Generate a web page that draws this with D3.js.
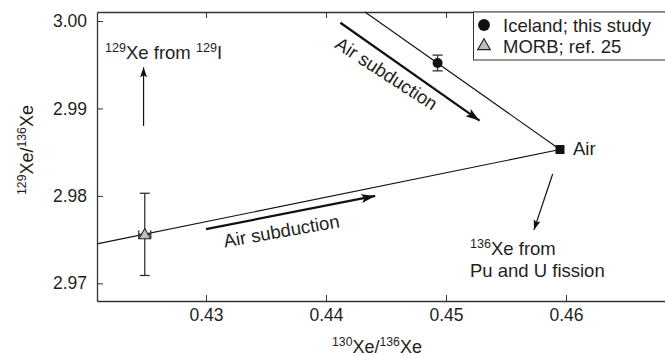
<!DOCTYPE html>
<html>
<head>
<meta charset="utf-8">
<script src="https://cdn.jsdelivr.net/npm/d3@7"></script>
<style>
  body { margin: 0; background: #fff; }
  svg { font-family: "Liberation Sans", Arial, sans-serif; }
  .axis path, .axis line { stroke: #333; }
  .axis text { font-size: 17.5px; fill: #231f20; }
</style>
</head>
<body>
<div id="chart"></div>
<script>
// sample points
var sampleNames = ["Iceland; this study", "MORB; ref. 25"];
var sampleX = [0.4493, 0.4249];
var sampleY = [2.9952, 2.9756];
var sampleXErr = [0, 0.0005];
var sampleYErr = [0.0009, 0.0047];

// air composition
var airX = 0.4595, airY = 2.9853;

// mixing lines (air -> edge of plot)
var icelandLine = [[0.4595, 2.9853], [0.44325, 3.00103]];
var morbLine = [[0.4595, 2.9853], [0.42092, 2.97451]];

// arrows
var thickArrows = [[[0.4412, 2.9998], [0.4528, 2.9886]], [[0.4300, 2.9762], [0.4441, 2.9800]]];
var thinArrows = [[[0.4248, 2.9880], [0.4248, 2.9947]], [[0.45889, 2.98251], [0.45733, 2.97611]]];

var xTicks = [0.43, 0.44, 0.45, 0.46];
var yTicks = [2.97, 2.98, 2.99, 3.00];

var W = 665, H = 356;
var margin = { top: 12, right: 0, bottom: 55, left: 97 },
  width = W - margin.left - margin.right,
  height = H - margin.top - margin.bottom;

var svg = d3.select("#chart").append("svg")
  .attr("width", W)
  .attr("height", H);

var defs = svg.append("defs");
defs.append("marker")
  .attr("id", "headThick")
  .attr("markerUnits", "userSpaceOnUse")
  .attr("viewBox", "0 -5 14 10")
  .attr("refX", 14).attr("refY", 0)
  .attr("markerWidth", 14).attr("markerHeight", 10)
  .attr("orient", "auto")
  .append("path").attr("d", "M0,-4.5L14,0L0,4.5L3,0Z").attr("fill", "#111");
defs.append("marker")
  .attr("id", "headThin")
  .attr("markerUnits", "userSpaceOnUse")
  .attr("viewBox", "0 -4 10 8")
  .attr("refX", 10).attr("refY", 0)
  .attr("markerWidth", 10).attr("markerHeight", 8)
  .attr("orient", "auto")
  .append("path").attr("d", "M0,-3.5L10,0L0,3.5L2,0Z").attr("fill", "#111");

var g = svg.append("g")
  .attr("transform", "translate(" + margin.left + "," + margin.top + ")");

var x = d3.scaleLinear().domain([0.42092, 0.46825]).range([0, width]);
var y = d3.scaleLinear().domain([2.96798, 3.00103]).range([height, 0]);

// axes with inward ticks
g.append("g")
  .attr("class", "axis")
  .attr("transform", "translate(0," + height + ")")
  .call(d3.axisBottom(x).tickValues(xTicks).tickSizeInner(-6).tickSizeOuter(0).tickPadding(8).tickFormat(d3.format(".2f")));

g.append("g")
  .attr("class", "axis")
  .call(d3.axisTop(x).tickValues(xTicks).tickSizeInner(-6).tickSizeOuter(0).tickFormat(""));

g.append("g")
  .attr("class", "axis")
  .call(d3.axisLeft(y).tickValues(yTicks).tickSizeInner(-6).tickSizeOuter(0).tickPadding(10).tickFormat(d3.format(".2f")));

g.selectAll(".axis path").attr("stroke-width", 1.3);

// text with isotope superscripts
function isoText(sel, parts) {
  parts.forEach(function (p) {
    if (p.sup) {
      sel.append("tspan").attr("font-size", "0.68em").attr("dy", -7).text(p.sup);
      sel.append("tspan").attr("dy", 7).text(p.t);
    } else {
      sel.append("tspan").text(p.t);
    }
  });
}

var xt = svg.append("text")
  .attr("x", 377).attr("y", 353)
  .attr("text-anchor", "middle")
  .attr("font-size", 18).attr("fill", "#231f20");
isoText(xt, [{ sup: "130", t: "Xe/" }, { sup: "136", t: "Xe" }]);

var yt = svg.append("text")
  .attr("transform", "translate(33,150) rotate(-90)")
  .attr("text-anchor", "middle")
  .attr("font-size", 18).attr("fill", "#231f20");
isoText(yt, [{ sup: "129", t: "Xe/" }, { sup: "136", t: "Xe" }]);

// mixing lines
var line = d3.line().x(function (d) { return x(d[0]); }).y(function (d) { return y(d[1]); });
[icelandLine, morbLine].forEach(function (l) {
  g.append("path").attr("d", line(l)).attr("fill", "none").attr("stroke", "#111").attr("stroke-width", 1.1);
});

// arrows
thickArrows.forEach(function (a) {
  g.append("path").attr("d", line(a)).attr("stroke", "#111").attr("stroke-width", 2.2)
    .attr("fill", "none").attr("marker-end", "url(#headThick)");
});
thinArrows.forEach(function (a) {
  g.append("path").attr("d", line(a)).attr("stroke", "#111").attr("stroke-width", 1.2)
    .attr("fill", "none").attr("marker-end", "url(#headThin)");
});

// error bars
var cap = 5;
sampleX.forEach(function (sx, i) {
  var eb = g.append("g").attr("stroke", "#333").attr("stroke-width", 1.3);
  var cx = x(sx), cy = y(sampleY[i]);
  var y0 = y(sampleY[i] - sampleYErr[i]), y1 = y(sampleY[i] + sampleYErr[i]);
  eb.append("line").attr("x1", cx).attr("x2", cx).attr("y1", y0).attr("y2", y1);
  eb.append("line").attr("x1", cx - cap).attr("x2", cx + cap).attr("y1", y0).attr("y2", y0);
  eb.append("line").attr("x1", cx - cap).attr("x2", cx + cap).attr("y1", y1).attr("y2", y1);
  if (sampleXErr[i] > 0) {
    var x0 = x(sx - sampleXErr[i]), x1 = x(sx + sampleXErr[i]);
    eb.append("line").attr("x1", x0).attr("x2", x1).attr("y1", cy).attr("y2", cy);
    eb.append("line").attr("x1", x0).attr("x2", x0).attr("y1", cy - 4).attr("y2", cy + 4);
    eb.append("line").attr("x1", x1).attr("x2", x1).attr("y1", cy - 4).attr("y2", cy + 4);
  }
});

// markers
var circleSym = d3.symbol().type(d3.symbolCircle).size(78);
var triSym = d3.symbol().type(d3.symbolTriangle).size(60);
g.append("path").attr("d", circleSym())
  .attr("transform", "translate(" + x(sampleX[0]) + "," + y(sampleY[0]) + ")")
  .attr("fill", "#111");
g.append("path").attr("d", triSym())
  .attr("transform", "translate(" + x(sampleX[1]) + "," + (y(sampleY[1]) + 1) + ")")
  .attr("fill", "#bdbdbd").attr("stroke", "#222").attr("stroke-width", 1.1);

// air point
g.append("rect")
  .attr("x", x(airX) - 4.5).attr("y", y(airY) - 4.5)
  .attr("width", 9).attr("height", 9).attr("fill", "#111");

// annotations
var ann = g.append("g").attr("font-size", 18.5).attr("fill", "#231f20");
ann.append("text").attr("x", x(airX) + 13).attr("y", y(airY) + 5).text("Air");

var t1 = ann.append("text").attr("x", x(0.42092) + 8).attr("y", y(2.99566));
isoText(t1, [{ sup: "129", t: "Xe from " }, { sup: "129", t: "I" }]);

var t2 = ann.append("text").attr("x", x(0.4520)).attr("y", y(2.97326));
isoText(t2, [{ sup: "136", t: "Xe from" }]);
ann.append("text").attr("x", x(0.4520)).attr("y", y(2.97078)).text("Pu and U fission");

ann.append("text")
  .attr("text-anchor", "middle")
  .attr("transform", "translate(" + x(0.44475) + "," + y(2.99337) + ") rotate(33)")
  .text("Air subduction");
ann.append("text")
  .attr("text-anchor", "middle")
  .attr("transform", "translate(" + x(0.43638) + "," + y(2.97526) + ") rotate(-10)")
  .text("Air subduction");

// legend
var lg = svg.append("g");
lg.append("rect").attr("x", 473.5).attr("y", 12).attr("width", 200).attr("height", 48)
  .attr("fill", "#fff").attr("stroke", "#333").attr("stroke-width", 1);
lg.append("path").attr("d", d3.symbol().type(d3.symbolCircle).size(110)()).attr("transform", "translate(484,25)").attr("fill", "#111");
lg.append("path").attr("d", d3.symbol().type(d3.symbolTriangle).size(70)()).attr("transform", "translate(484,46)")
  .attr("fill", "#bdbdbd").attr("stroke", "#222").attr("stroke-width", 1.1);
lg.selectAll("text.lab").data(sampleNames).enter().append("text")
  .attr("x", 503).attr("y", function (d, i) { return 31.5 + i * 21; })
  .attr("font-size", 18.5).attr("fill", "#231f20")
  .text(function (d) { return d; });
</script>
</body>
</html>
